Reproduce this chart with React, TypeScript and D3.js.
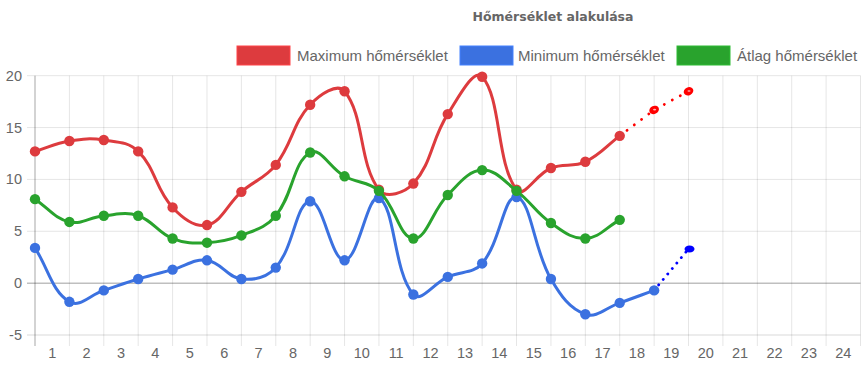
import React from "react";
import * as d3 from "d3";

const title = "Hőmérséklet alakulása";
const seriesNames = ["Maximum hőmérséklet", "Minimum hőmérséklet", "Átlag hőmérséklet"];
const xLabels = ["1","2","3","4","5","6","7","8","9","10","11","12","13","14","15","16","17","18","19","20","21","22","23","24"];
const yTicks = [-5, 0, 5, 10, 15, 20];

const maxTemp = [12.7, 13.7, 13.8, 12.7, 7.3, 5.6, 8.8, 11.4, 17.2, 18.5, 9.0, 9.6, 16.3, 19.9, 9.0, 11.1, 11.7, 14.2];
const minTemp = [3.4, -1.8, -0.7, 0.4, 1.3, 2.2, 0.4, 1.5, 7.9, 2.2, 8.2, -1.1, 0.6, 1.9, 8.3, 0.4, -3.0, -1.9, -0.7];
const avgTemp = [8.1, 5.9, 6.5, 6.5, 4.3, 3.9, 4.6, 6.5, 12.6, 10.3, 8.9, 4.3, 8.5, 10.9, 8.9, 5.8, 4.3, 6.1];
const maxForecast = [14.2, 16.7, 18.5];
const minForecast = [-0.7, 3.3];

const colors = ["#dd3b3e", "#3b71e0", "#29a32d"];
const FONT = "'Liberation Sans', Arial, sans-serif";

type P = [number, number];

function splinePath(pts: P[], t: number): string {
  if (pts.length === 0) return "";
  const cps: { prev: P; next: P }[] = pts.map((p1, i) => {
    const p0 = pts[i - 1] || p1;
    const p2 = pts[i + 1] || p1;
    const d01 = Math.hypot(p1[0] - p0[0], p1[1] - p0[1]);
    const d12 = Math.hypot(p2[0] - p1[0], p2[1] - p1[1]);
    let s01 = d01 / (d01 + d12);
    let s12 = d12 / (d01 + d12);
    if (!isFinite(s01)) s01 = 0;
    if (!isFinite(s12)) s12 = 0;
    const fa = t * s01;
    const fb = t * s12;
    return {
      prev: [p1[0] - fa * (p2[0] - p0[0]), p1[1] - fa * (p2[1] - p0[1])],
      next: [p1[0] + fb * (p2[0] - p0[0]), p1[1] + fb * (p2[1] - p0[1])],
    };
  });
  let d = `M${pts[0][0]},${pts[0][1]}`;
  for (let i = 1; i < pts.length; i++) {
    const a = cps[i - 1].next;
    const b = cps[i].prev;
    d += `C${a[0]},${a[1]},${b[0]},${b[1]},${pts[i][0]},${pts[i][1]}`;
  }
  return d;
}

export default function App() {
  const W = 864, H = 380;
  const left = 35, right = 860.5, top = 75.7, bottom = 335;
  const x = d3.scaleLinear().domain([0, xLabels.length]).range([left, right]);
  const y = d3.scaleLinear().domain([-5, 20]).range([bottom, top]);

  const toPts = (arr: number[], offset = 0): P[] => arr.map((v, i) => [x(i + offset), y(v)]);
  const series = [maxTemp, minTemp, avgTemp];

  const line = d3.line<P>();

  const legendItems = [
    { bx: 237, tx: 297 },
    { bx: 460, tx: 518 },
    { bx: 677, tx: 737 },
  ];

  return (
    <svg width={W} height={H} style={{ position: "absolute", left: 0, top: 0, background: "#fff" }}>
      {/* title */}
      <text x={553} y={16} textAnchor="middle" dominantBaseline="central" fontFamily="'DejaVu Sans', sans-serif" fontWeight="bold" fontSize={12.5} fill="#666">{title}</text>
      {/* legend */}
      {legendItems.map((it, i) => (
        <g key={i}>
          <rect x={it.bx} y={46} width={53} height={19} fill={colors[i]} stroke={d3.color(colors[i])!.brighter(0.4).toString()} strokeWidth={1} />
          <text x={it.tx} y={55.5} dominantBaseline="central" fontFamily={FONT} fontSize={15} fill="#666">{seriesNames[i]}</text>
        </g>
      ))}
      {/* vertical grid */}
      {d3.range(0, xLabels.length + 1).map((i) => (
        <line key={"v" + i} x1={x(i)} x2={x(i)} y1={top} y2={bottom + 11} stroke={i === 0 ? "rgba(0,0,0,0.35)" : "rgba(0,0,0,0.1)"} strokeWidth={1} />
      ))}
      {/* horizontal grid */}
      {yTicks.map((v) => (
        <line key={"h" + v} x1={left - 8} x2={right} y1={y(v)} y2={y(v)} stroke={v === 0 ? "rgba(0,0,0,0.25)" : "rgba(0,0,0,0.1)"} strokeWidth={v === 0 || v === -5 ? 1.5 : 1} />
      ))}
      {/* y labels */}
      {yTicks.map((v) => (
        <text key={"yl" + v} x={22} y={y(v)} textAnchor="end" dominantBaseline="central" fontFamily={FONT} fontSize={14.5} fill="#666">{v}</text>
      ))}
      {/* x labels */}
      {xLabels.map((l, i) => (
        <text key={"xl" + i} x={x(i + 0.5)} y={353} textAnchor="middle" dominantBaseline="central" fontFamily={FONT} fontSize={14.5} fill="#666">{l}</text>
      ))}
      {/* forecast dotted lines */}
      <path d={line(toPts(maxForecast, maxTemp.length - 1)) || ""} fill="none" stroke="#ff0000" strokeWidth={2.8} strokeLinecap="round" strokeDasharray="0.1 9" />
      <path d={line(toPts(minForecast, minTemp.length - 1)) || ""} fill="none" stroke="#0000ff" strokeWidth={2.8} strokeLinecap="round" strokeDasharray="0.1 7" />
      {/* series */}
      {series.map((arr, si) => {
        const pts = toPts(arr);
        return (
          <g key={"s" + si}>
            <path d={splinePath(pts, 0.4)} fill="none" stroke={colors[si]} strokeWidth={3} />
            {pts.map((p, i) => (
              <circle key={i} cx={p[0]} cy={p[1]} r={5.2} fill={colors[si]} />
            ))}
          </g>
        );
      })}
      {/* forecast markers */}
      {toPts(maxForecast, maxTemp.length - 1).slice(1).map((p, i) => (
        <g key={"mf" + i}>
          <ellipse cx={p[0]} cy={p[1]} rx={5} ry={4} fill="#ff0000" transform={`rotate(-25 ${p[0]} ${p[1]})`} />
          <ellipse cx={p[0] + 0.5} cy={p[1] - 0.3} rx={1.6} ry={0.8} fill="#fff" opacity={0.7} />
        </g>
      ))}
      {toPts(minForecast, minTemp.length - 1).slice(1).map((p, i) => (
        <ellipse key={"nf" + i} cx={p[0] + 1} cy={p[1]} rx={5} ry={3.5} fill="#0000ff" />
      ))}
    </svg>
  );
}
